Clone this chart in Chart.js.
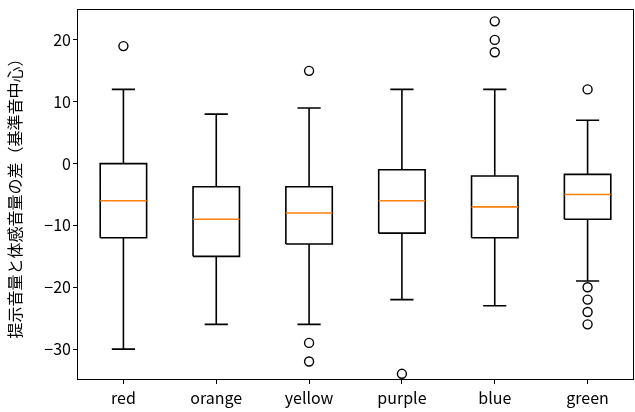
<!DOCTYPE html>
<html>
<head>
<meta charset="utf-8">
<script src="https://cdn.jsdelivr.net/npm/chart.js@4"></script>
<style>
  body { margin: 0; background: #fff; }
  #wrap { width: 635px; height: 412px; position: relative; }
</style>
</head>
<body>
<div id="wrap"><canvas id="chart"></canvas></div>
<script>
// box plot values
var categories = ['red', 'orange', 'yellow', 'purple', 'blue', 'green'];
var whiskerLow = [-30, -26, -26, -22, -23, -19];
var q1 = [-12, -15, -13, -11.25, -12, -9];
var medians = [-6, -9, -8, -6, -7, -5];
var q3 = [0, -3.75, -3.75, -1, -2, -1.75];
var whiskerHigh = [12, 8, 9, 12, 12, 7];
var outliers = [[19], [], [15, -29, -32], [-34], [23, 20, 18], [12, -20, -22, -24, -26]];
var yTicks = [-30, -20, -10, 0, 10, 20];
var yTitle = '提示音量と体感音量の差（基準音中心）';

var FONT = "'Noto Sans CJK JP', 'Noto Sans', sans-serif";
var BOX_HALF = 0.25;
var CAP_HALF = 0.125;

// build the line segments (null y breaks the line)
var boxLines = [];
var medianLines = [];
var outlierPts = [];
function gap(x) { return { x: x, y: null }; }

for (var i = 0; i < categories.length; i++) {
  var x = i + 1;
  // box
  boxLines.push({ x: x - BOX_HALF, y: q1[i] }, { x: x + BOX_HALF, y: q1[i] },
    { x: x + BOX_HALF, y: q3[i] }, { x: x - BOX_HALF, y: q3[i] },
    { x: x - BOX_HALF, y: q1[i] }, gap(x));
  // whiskers
  boxLines.push({ x: x, y: q1[i] }, { x: x, y: whiskerLow[i] }, gap(x));
  boxLines.push({ x: x, y: q3[i] }, { x: x, y: whiskerHigh[i] }, gap(x));
  // caps
  boxLines.push({ x: x - CAP_HALF, y: whiskerLow[i] }, { x: x + CAP_HALF, y: whiskerLow[i] }, gap(x));
  boxLines.push({ x: x - CAP_HALF, y: whiskerHigh[i] }, { x: x + CAP_HALF, y: whiskerHigh[i] }, gap(x));
  // median
  medianLines.push({ x: x - BOX_HALF, y: medians[i] }, { x: x + BOX_HALF, y: medians[i] }, gap(x));
  // fliers
  for (var j = 0; j < outliers[i].length; j++) {
    outlierPts.push({ x: x, y: outliers[i][j] });
  }
}

// frame around the plot area
var framePlugin = {
  id: 'frame',
  afterDraw: function (chart) {
    var a = chart.chartArea;
    var ctx = chart.ctx;
    ctx.save();
    ctx.strokeStyle = '#000';
    ctx.lineWidth = 1;
    ctx.strokeRect(a.left + 0.5, a.top + 0.5, a.right - a.left - 1, a.bottom - a.top - 1);
    ctx.restore();
  }
};

function minus(v) {
  return String(v).replace('-', '\u2212');
}

var ctx = document.getElementById('chart').getContext('2d');
var chart = new Chart(ctx, {
  type: 'scatter',
  data: {
    datasets: [
      {
        label: 'fliers',
        data: outlierPts,
        showLine: false,
        pointStyle: 'circle',
        pointRadius: 4.5,
        pointBorderWidth: 1.4,
        pointBorderColor: '#000',
        pointBackgroundColor: '#fff'
      },
      {
        label: 'medians',
        data: medianLines,
        showLine: true,
        spanGaps: false,
        borderColor: '#ff7f0e',
        borderWidth: 1.6,
        pointRadius: 0
      },
      {
        label: 'boxes',
        data: boxLines,
        showLine: true,
        spanGaps: false,
        borderColor: '#000',
        borderWidth: 1.6,
        pointRadius: 0
      }
    ]
  },
  options: {
    responsive: true,
    maintainAspectRatio: false,
    animation: false,
    layout: { autoPadding: false, padding: { top: 9, right: 1, left: 0, bottom: 0 } },
    plugins: {
      legend: { display: false },
      tooltip: { enabled: false }
    },
    scales: {
      x: {
        type: 'linear',
        min: 0.5,
        max: 6.5,
        afterFit: function (scale) {
          scale.height = 32;
          scale.paddingLeft = 0;
          scale.paddingRight = 0;
        },
        afterBuildTicks: function (scale) {
          scale.ticks = categories.map(function (c, k) { return { value: k + 1 }; });
        },
        border: { display: false },
        grid: { drawOnChartArea: false, tickLength: 4, tickColor: '#000', tickWidth: 1 },
        ticks: {
          padding: 4,
          color: '#000',
          font: { family: FONT, size: 16 },
          maxRotation: 0,
          callback: function (v) { return categories[v - 1]; }
        }
      },
      y: {
        min: -35,
        max: 25,
        afterFit: function (scale) {
          scale.width = 77;
          scale.paddingTop = 0;
          scale.paddingBottom = 0;
        },
        afterBuildTicks: function (scale) {
          scale.ticks = yTicks.map(function (v) { return { value: v }; });
        },
        border: { display: false },
        grid: { drawOnChartArea: false, tickLength: 4, tickColor: '#000', tickWidth: 1 },
        ticks: {
          padding: 2,
          color: '#000',
          font: { family: FONT, size: 16 },
          callback: function (v) { return minus(v); }
        },
        title: {
          display: true,
          text: yTitle,
          color: '#000',
          font: { family: FONT, size: 16 },
          padding: { top: 5, bottom: 0 }
        }
      }
    }
  },
  plugins: [framePlugin]
});
</script>
</body>
</html>
